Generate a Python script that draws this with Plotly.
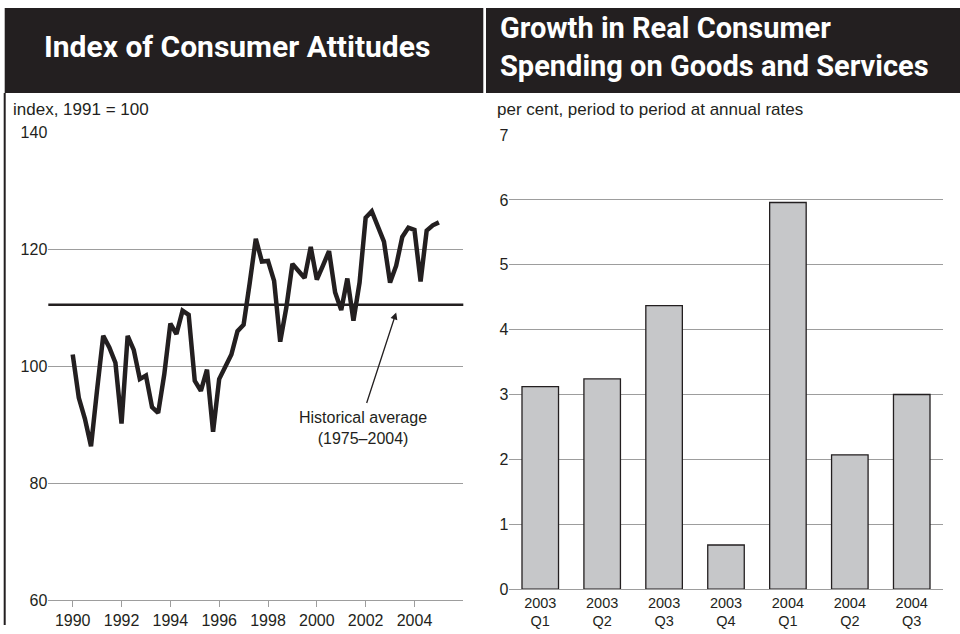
import plotly.graph_objects as go

# ---------------- data ----------------
index_start_year = 1990
consumer_index = [102.0, 94.6, 91.0, 86.3, 96.0, 105.2, 103.2, 100.6, 90.2, 105.2,
                  102.8, 97.8, 98.4, 93.0, 92.0, 98.6, 107.3, 105.5, 109.5, 108.8,
                  97.5, 95.8, 99.4, 88.8, 97.8, 99.8, 102.0, 106.0, 107.1, 114.2,
                  121.8, 117.9, 118.0, 114.6, 104.2, 110.0, 117.5, 116.3, 115.1, 120.4,
                  114.8, 117.2, 119.7, 112.6, 109.6, 115.0, 107.8, 114.3, 125.4, 126.5,
                  124.0, 121.3, 114.3, 117.2, 122.1, 123.7, 123.3, 114.5, 123.2, 124.1,
                  124.6]
historical_average = 110.5
left_ticks = [1990, 1992, 1994, 1996, 1998, 2000, 2002, 2004]
left_yticks = [60, 80, 100, 120, 140]

bar_categories = ["2003<br>Q1", "2003<br>Q2", "2003<br>Q3", "2003<br>Q4",
                  "2004<br>Q1", "2004<br>Q2", "2004<br>Q3"]
bar_values = [3.12, 3.24, 4.37, 0.68, 5.96, 2.07, 3.0]
right_yticks = [0, 1, 2, 3, 4, 5, 6, 7]

quarter_x = [index_start_year + i / 4 for i in range(len(consumer_index))]

# ---------------- style ----------------
INK = "#231f20"
GRID = "#9d9d9d"
BAR = "#c6c7c9"
FONT = "Liberation Sans, Arial, sans-serif"
TITLE_FONT = "Roboto, Arial, sans-serif"
W, H = 960, 634
OFF, SC = 7.0, 0.973   # observed vertical placement of the page in the photo

def px(x):
    return x / W

def py(y):
    f = (y - OFF) / SC
    return max(0.0, min(1.0, 1 - f / H))

fig = go.Figure()

fig.add_trace(go.Scatter(x=quarter_x, y=consumer_index, mode="lines",
                         line=dict(color=INK, width=4.5),
                         xaxis="x", yaxis="y", showlegend=False, hoverinfo="skip"))

fig.add_trace(go.Bar(x=bar_categories, y=bar_values,
                     marker=dict(color=BAR, line=dict(color=INK, width=1.3)),
                     width=0.59, xaxis="x2", yaxis="y2", showlegend=False,
                     hoverinfo="skip"))

fig.update_layout(
    width=W, height=H,
    margin=dict(l=0, r=0, t=0, b=0),
    paper_bgcolor="white", plot_bgcolor="white",
    font=dict(family=FONT, size=16, color=INK),
    xaxis=dict(domain=[px(48.3), px(463.3)], range=[1989, 2006],
               tickvals=left_ticks, ticktext=[str(t) for t in left_ticks],
               showgrid=False, zeroline=False,
               showline=True, linecolor=GRID, linewidth=1.2,
               ticks="outside", ticklen=6, tickcolor=GRID, tickwidth=1.2,
               tickfont=dict(size=16, color=INK)),
    yaxis=dict(domain=[py(599), py(131.3)], range=[60, 140],
               tickvals=left_yticks, showgrid=True, gridcolor=GRID, gridwidth=1.2,
               zeroline=False, showline=False, ticks="",
               tickfont=dict(size=16, color=INK)),
    xaxis2=dict(domain=[px(509.3), px(942.7)], range=[-0.5, 6.5], anchor="y2",
                showgrid=False, zeroline=False, showline=True, linecolor=GRID,
                linewidth=1.2, ticks="", tickfont=dict(size=14.5, color=INK)),
    yaxis2=dict(domain=[py(588), py(134)], range=[0, 7], anchor="x2",
                tickvals=right_yticks, showgrid=True, gridcolor=GRID, gridwidth=1.2,
                zeroline=False, showline=False, ticks="",
                tickfont=dict(size=16, color=INK)),
)

# historical average line
fig.add_shape(type="line", xref="x domain", yref="y", x0=0, x1=1,
              y0=historical_average, y1=historical_average,
              line=dict(color=INK, width=2.5))

# header boxes
fig.add_shape(type="rect", xref="paper", yref="paper",
              x0=px(4.7), x1=px(483.3), y0=py(92), y1=1.0,
              fillcolor=INK, line=dict(width=0), layer="below")
fig.add_shape(type="rect", xref="paper", yref="paper",
              x0=px(486), x1=px(960), y0=py(92), y1=1.0,
              fillcolor=INK, line=dict(width=0), layer="below")
# left border line
fig.add_shape(type="line", xref="paper", yref="paper",
              x0=px(4.7), x1=px(4.7), y0=py(92), y1=py(626),
              line=dict(color=INK, width=2))

ann = []
ann.append(dict(text="<b>Index of Consumer Attitudes</b>", xref="paper", yref="paper",
                x=px(42), y=py(45), xanchor="left", yanchor="middle", showarrow=False,
                font=dict(family=TITLE_FONT, size=30, color="white")))
ann.append(dict(text="<b>Growth in Real Consumer<br>Spending on Goods and Services</b>",
                xref="paper", yref="paper", align="left",
                x=px(498), y=py(46), xanchor="left", yanchor="middle", showarrow=False,
                font=dict(family=TITLE_FONT, size=29, color="white")))
ann.append(dict(text="index, 1991 = 100", xref="paper", yref="paper",
                x=px(11), y=py(108), xanchor="left", yanchor="middle", showarrow=False,
                font=dict(size=17, color=INK)))
ann.append(dict(text="per cent, period to period at annual rates", xref="paper", yref="paper",
                x=px(494.5), y=py(108), xanchor="left", yanchor="middle", showarrow=False,
                font=dict(size=17, color=INK)))
# arrow
ann.append(dict(text="", xref="x", yref="y", x=2003.25, y=109.2,
                ax=-30, ay=92, showarrow=True, arrowhead=2, arrowsize=1.1,
                arrowwidth=1.3, arrowcolor=INK, standoff=0))
ann.append(dict(text="Historical average<br>(1975–2004)", xref="x", yref="y",
                x=2001.89, y=89.4, xanchor="center", yanchor="middle", showarrow=False,
                font=dict(size=16, color=INK)))
fig.update_layout(annotations=ann)

fig.write_html("out.html", config={"displayModeBar": False},
               post_script="document.body.style.margin='0px';")
